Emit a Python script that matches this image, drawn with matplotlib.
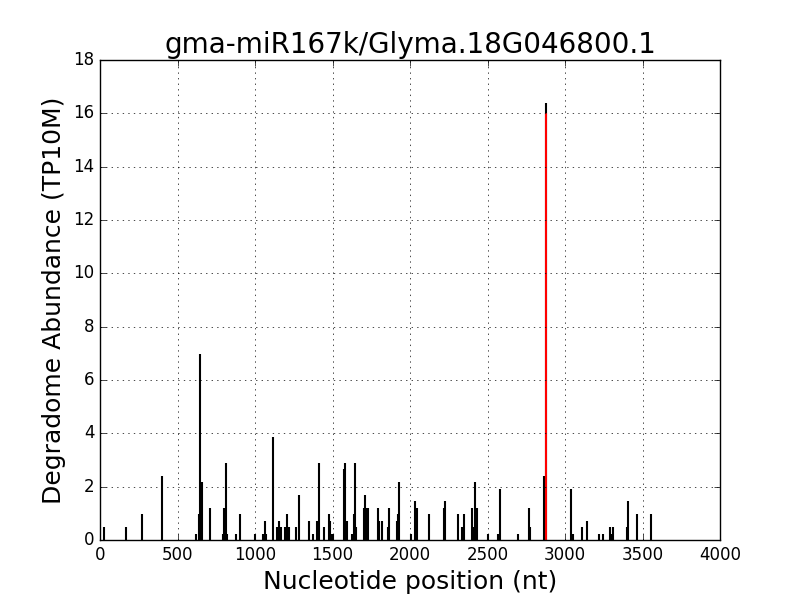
import matplotlib
matplotlib.use("Agg")
import matplotlib.pyplot as plt

# degradome read positions (nt) and abundances (TP10M)
positions = [28, 166, 273, 398, 621, 639, 647, 656, 707, 794, 802, 806, 815, 822, 880, 905,
             1002, 1054, 1067, 1071, 1118, 1140, 1148, 1157, 1166, 1196, 1208, 1222, 1265, 1286,
             1351, 1376, 1402, 1415, 1445, 1475, 1484, 1497, 1500, 1574, 1583, 1591, 1626,
             1639, 1647, 1652, 1703, 1707, 1716, 1729, 1794, 1802, 1819, 1858, 1866, 1913,
             1922, 1931, 2004, 2030, 2047, 2125, 2219, 2228, 2310, 2335, 2348, 2400, 2408,
             2421, 2434, 2503, 2568, 2581, 2697, 2765, 2774, 2865, 2877, 3036, 3054, 3110,
             3144, 3222, 3247, 3290, 3303, 3312, 3398, 3406, 3467, 3553]
abundance = [0.48, 0.48, 0.96, 2.41, 0.24, 0.96, 6.99, 2.17, 1.2, 0.24, 1.2, 0.48, 2.89, 0.24, 0.24, 0.96,
             0.24, 0.24, 0.72, 0.24, 3.86, 0.48, 0.24, 0.72, 0.48, 0.48, 0.96, 0.48, 0.48, 1.69,
             0.72, 0.24, 0.72, 2.89, 0.48, 0.96, 0.72, 0.24, 0.24, 2.65, 2.89, 0.72, 0.24,
             0.96, 2.89, 0.48, 1.2, 1.69, 1.2, 1.2, 1.2, 0.72, 0.72, 0.48, 1.2, 0.72,
             0.96, 2.17, 0.24, 1.45, 1.2, 0.96, 1.2, 1.45, 0.96, 0.48, 0.96, 1.2, 0.48,
             2.17, 1.2, 0.24, 0.24, 1.93, 0.24, 1.2, 0.48, 2.41, 16.4, 1.93, 0.24, 0.48,
             0.72, 0.24, 0.24, 0.48, 0.24, 0.48, 0.48, 1.45, 0.96, 0.96]

# predicted cleavage site
site_pos = 2877
site_val = 16.0

plt.style.use("classic")
fig, ax = plt.subplots(figsize=(8, 6), dpi=100)
fig.patch.set_facecolor("white")

ax.vlines(positions, 0, abundance, colors="black", linewidth=1.5)
ax.vlines([site_pos], 0, [site_val], colors="red", linewidth=1.5)

ax.set_xlim(0, 4000)
ax.set_ylim(0, 18)
ax.grid(True)
ax.set_title("gma-miR167k/Glyma.18G046800.1", fontsize=20)
ax.set_xlabel("Nucleotide position (nt)", fontsize=18)
ax.set_ylabel("Degradome Abundance (TP10M)", fontsize=18)

fig.savefig("out.png", dpi=100, facecolor="white")
